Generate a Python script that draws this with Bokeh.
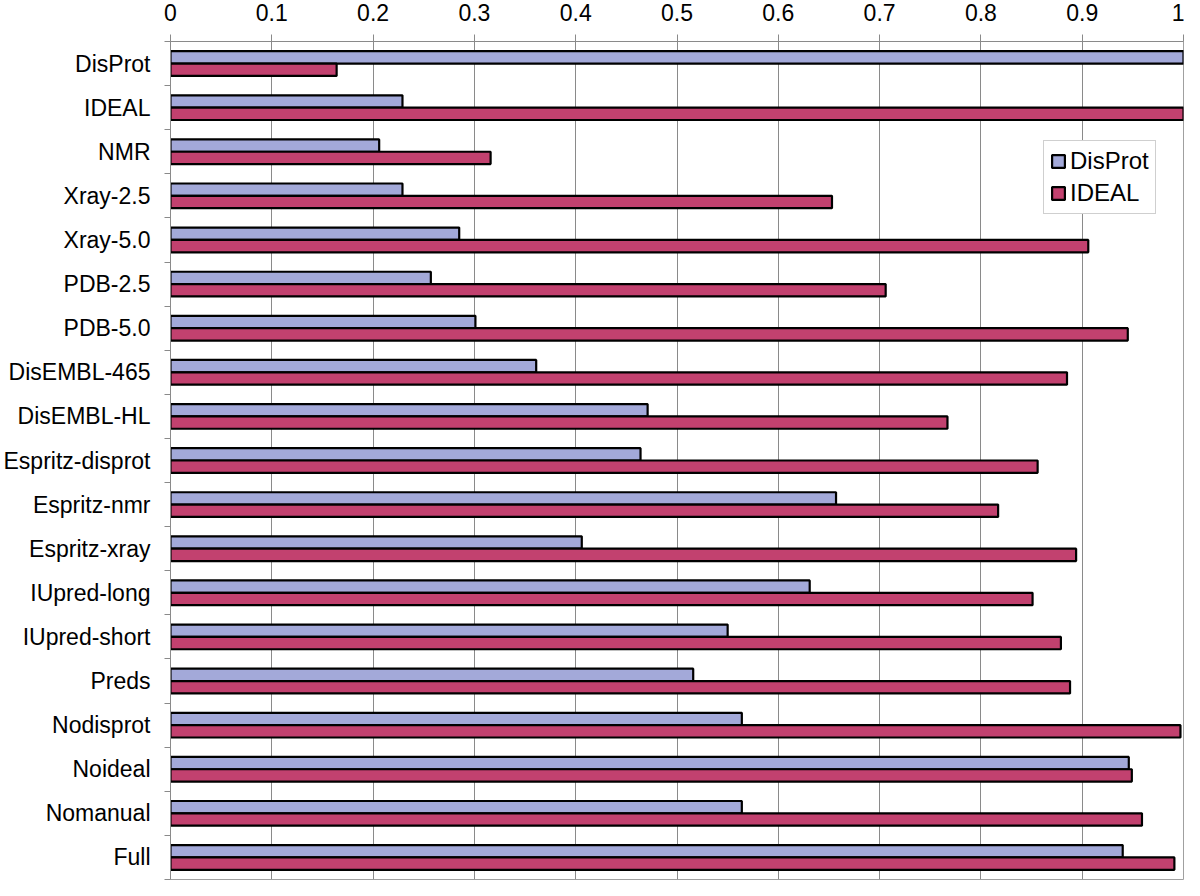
from bokeh.plotting import figure
from bokeh.models import (ColumnDataSource, Range1d, FixedTicker, Legend, LegendItem)
from bokeh.transform import dodge
from bokeh.embed import file_html
from bokeh.resources import INLINE

categories = ["DisProt", "IDEAL", "NMR", "Xray-2.5", "Xray-5.0", "PDB-2.5", "PDB-5.0",
              "DisEMBL-465", "DisEMBL-HL", "Espritz-disprot", "Espritz-nmr", "Espritz-xray",
              "IUpred-long", "IUpred-short", "Preds", "Nodisprot", "Noideal", "Nomanual", "Full"]
disprot_vals = [1.0, 0.229, 0.206, 0.229, 0.285, 0.257, 0.301, 0.361, 0.471, 0.464,
                0.657, 0.406, 0.631, 0.550, 0.516, 0.564, 0.946, 0.564, 0.940]
ideal_vals = [0.164, 1.0, 0.316, 0.653, 0.906, 0.706, 0.945, 0.885, 0.767, 0.856,
              0.817, 0.894, 0.851, 0.879, 0.888, 0.997, 0.949, 0.959, 0.991]
x_ticks = [0, 0.1, 0.2, 0.3, 0.4, 0.5, 0.6, 0.7, 0.8, 0.9, 1]
x_tick_labels = ["0", "0.1", "0.2", "0.3", "0.4", "0.5", "0.6", "0.7", "0.8", "0.9", "1"]
series_names = ["DisProt", "IDEAL"]

FONT = "Liberation Sans"
BLUE = "#A3A9D9"
RED = "#C2416F"
GRAY = "#8a8a8a"

n = len(categories)
# category slot centres, first category at the top
slot = [n - i - 0.5 for i in range(n)]
bounds = list(range(n + 1))

src = ColumnDataSource(dict(cat=categories, slot=slot, disprot=disprot_vals, ideal=ideal_vals))

p = figure(width=1184, height=880,
           y_range=Range1d(0, n), x_range=Range1d(0, 1),
           x_axis_location="above",
           output_backend="svg", toolbar_location=None,
           min_border_left=165, min_border_right=1, min_border_top=39, min_border_bottom=1)

ya = p.yaxis[0]
ya.ticker = FixedTicker(ticks=slot, minor_ticks=bounds)
ya.major_label_overrides = dict(zip(slot, categories))
ya.major_tick_line_color = None
ya.minor_tick_line_color = GRAY
ya.minor_tick_out = 6
ya.minor_tick_in = 0
ya.axis_line_color = GRAY
ya.major_label_standoff = 14
ya.major_label_text_font = FONT
ya.major_label_text_font_size = "23px"
ya.major_label_text_color = "black"

xa = p.xaxis[0]
xa.ticker = FixedTicker(ticks=x_ticks)
xa.major_label_overrides = dict(zip(x_ticks, x_tick_labels))
xa.major_label_text_font = FONT
xa.major_label_text_font_size = "23px"
xa.major_label_text_color = "black"
xa.major_label_standoff = 14
xa.major_tick_out = 7
xa.major_tick_in = 0
xa.minor_tick_line_color = None
xa.axis_line_color = GRAY
xa.major_tick_line_color = GRAY

p.xgrid.grid_line_color = GRAY
p.xgrid.grid_line_width = 1
p.ygrid.visible = False
p.outline_line_color = "#a0a0a0"
p.outline_line_width = 1
p.background_fill_color = "white"

r1 = p.hbar(y=dodge("slot", 0.14), right="disprot", left=0, height=0.28,
            source=src, fill_color=BLUE, line_color="black", line_width=2.2)
r2 = p.hbar(y=dodge("slot", -0.14), right="ideal", left=0, height=0.28,
            source=src, fill_color=RED, line_color="black", line_width=2.2)

legend = Legend(items=[LegendItem(label=series_names[0], renderers=[r1]),
                       LegendItem(label=series_names[1], renderers=[r2])],
                location=(873, 665))
legend.border_line_color = "#a0a0a0"
legend.border_line_width = 1
legend.background_fill_color = "white"
legend.background_fill_alpha = 1
legend.label_text_font = FONT
legend.label_text_font_size = "24px"
legend.label_text_color = "black"
legend.glyph_width = 16
legend.glyph_height = 16
legend.label_height = 28
legend.label_standoff = 4
legend.padding = 6
legend.spacing = 4
legend.margin = 0
p.add_layout(legend)

open("out.html", "w").write(file_html(p, INLINE))
